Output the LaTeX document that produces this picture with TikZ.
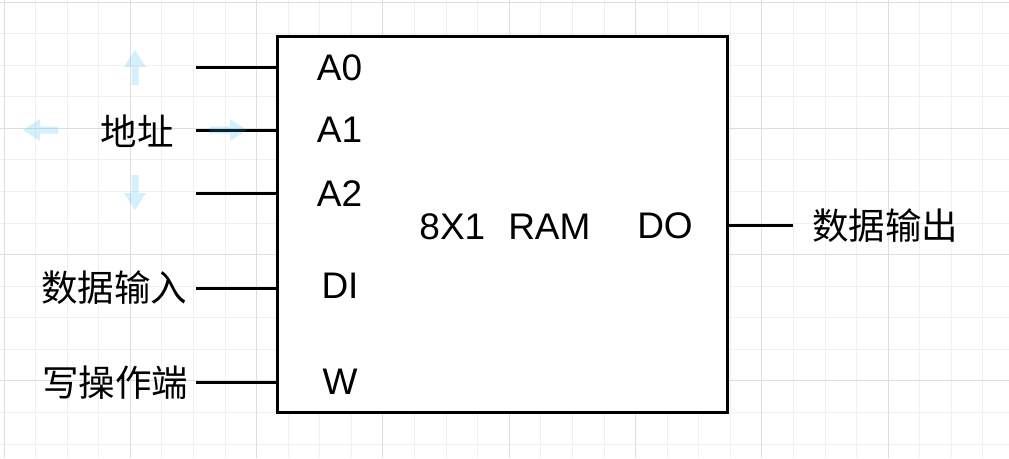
\documentclass[tikz,border=0pt]{standalone}
\usepackage{fontspec}
\setmainfont{Liberation Sans}
\newfontfamily\cjk{Noto Sans CJK SC}
\definecolor{gridminor}{RGB}{240,240,240}
\definecolor{gridmajor}{RGB}{222,222,222}
\definecolor{handle}{RGB}{41,182,242}
\tikzset{
  wire/.style={line width=3pt, draw=black},
  lbl/.style={inner sep=0pt, font=\fontsize{37}{40}\selectfont},
  cjklbl/.style={inner sep=0pt, font=\fontsize{36.5}{40}\selectfont\cjk},
  handlearrow/.style={fill=handle, fill opacity=0.2, draw=none}
}
\begin{document}
\begin{tikzpicture}[x=1pt,y=-1pt]
\useasboundingbox (0,0) rectangle (1009,458);
\fill[white] (0,0) rectangle (1009,458);
% grid
\foreach \i in {0,...,32} {
  \draw[gridminor, line width=1pt] ({4+31.58*\i},0) -- ({4+31.58*\i},458);
}
\foreach \i in {0,...,14} {
  \draw[gridminor, line width=1pt] (0,{2+31.58*\i}) -- (1009,{2+31.58*\i});
}
\foreach \i in {0,...,7} {
  \draw[gridmajor, line width=1pt] ({4+126.32*\i},0) -- ({4+126.32*\i},458);
}
\foreach \i in {0,...,3} {
  \draw[gridmajor, line width=1pt] (0,{2+126.32*\i}) -- (1009,{2+126.32*\i});
}
% main box
\node[wire, fill=white, rectangle, minimum width=450pt, minimum height=376pt, inner sep=0pt] (box) at (502,224) {};
% input stubs
\coordinate (a0in) at (196,67);
\coordinate (a1in) at (196,130);
\coordinate (a2in) at (196,193);
\coordinate (diin) at (196,288);
\coordinate (win) at (196,382);
\coordinate (doout) at (793,225);
\draw[wire] (a0in) -- (a0in -| box.west);
\draw[wire] (a1in) -- (a1in -| box.west);
\draw[wire] (a2in) -- (a2in -| box.west);
\draw[wire] (diin) -- (diin -| box.west);
\draw[wire] (win) -- (win -| box.west);
\draw[wire] (doout -| box.east) -- (doout);
% pin labels
\node[lbl] (A0) at (339.5,67.5) {A0};
\node[lbl] (A1) at (339.5,130) {A1};
\node[lbl] (A2) at (339.5,194) {A2};
\node[lbl] (DI) at (340,285.5) {DI};
\node[lbl] (W) at (340,382) {W};
\node[lbl] (ram) at (505,227) {8X1\hspace{23pt}RAM};
\node[lbl] (DO) at (665,226) {DO};
% side labels
\node[cjklbl] (addr) at (137,131) {地址};
\node[cjklbl] (din) at (114,288) {数据输入};
\node[cjklbl] (wr) at (115,383) {写操作端};
\node[cjklbl] (dout) at (885,226) {数据输出};
% faint handle arrows
\fill[handlearrow] (135,50) -- (146,67) -- (138.5,67) -- (138.5,85) -- (131.5,85) -- (131.5,67) -- (124,67) -- cycle;
\fill[handlearrow] (135,210) -- (146,193) -- (138.5,193) -- (138.5,175) -- (131.5,175) -- (131.5,193) -- (124,193) -- cycle;
\fill[handlearrow] (23,130) -- (40,119) -- (40,126.5) -- (58,126.5) -- (58,133.5) -- (40,133.5) -- (40,141) -- cycle;
\fill[handlearrow] (247,130) -- (230,119) -- (230,126.5) -- (210,126.5) -- (210,133.5) -- (230,133.5) -- (230,141) -- cycle;
\end{tikzpicture}
\end{document}
